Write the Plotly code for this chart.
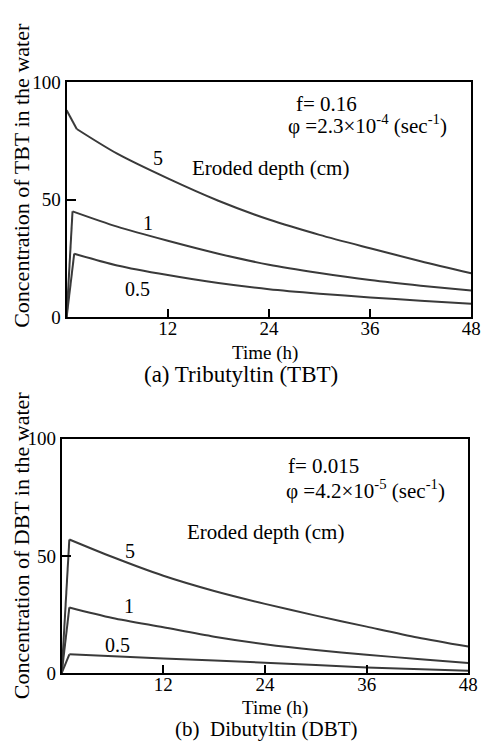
import plotly.graph_objects as go

# ---------------- data ----------------
# (a) Tributyltin (TBT), f = 0.16
tbt_t_5 = [0, 1.2, 6, 12, 18, 24, 30, 36, 42, 48]
tbt_c_5 = [88, 80, 69.5, 59, 49.5, 41.5, 35, 29.3, 23.8, 18.7]
tbt_t_1 = [0, 0.7, 6, 12, 18, 24, 30, 36, 42, 48]
tbt_c_1 = [0, 45, 38.5, 32.5, 27, 22.3, 18.8, 15.8, 13.4, 11.3]
tbt_t_05 = [0, 0.9, 6, 12, 18, 24, 30, 36, 42, 48]
tbt_c_05 = [0, 27, 22, 17.9, 14.5, 11.9, 10, 8.4, 7, 5.7]

# (b) Dibutyltin (DBT), f = 0.015
dbt_t_5 = [0, 0.9, 6, 12, 18, 24, 30, 36, 42, 48]
dbt_c_5 = [0, 57, 49.5, 41.5, 35, 29.5, 24.5, 19.8, 15.2, 11.3]
dbt_t_1 = [0, 0.9, 6, 12, 18, 24, 30, 36, 42, 48]
dbt_c_1 = [0, 28, 23.5, 19.5, 15.5, 12.3, 9.8, 7.8, 6, 4.3]
dbt_t_05 = [0, 0.9, 12, 24, 36, 48]
dbt_c_05 = [0, 8, 6.2, 4.4, 2.4, 1.0]

x_ticks = [12, 24, 36, 48]
y_ticks = [0, 50, 100]

FONT = "Liberation Serif, Times New Roman, Times, serif"
LINE_COLOR = "#3a3a3a"

fig = go.Figure()

def add_curve(t, c, xa, ya):
    # steep initial rise (straight) and smooth decay
    fig.add_trace(go.Scatter(x=t[:2], y=c[:2], mode="lines",
                             line=dict(color=LINE_COLOR, width=2), xaxis=xa, yaxis=ya))
    fig.add_trace(go.Scatter(x=t[1:], y=c[1:], mode="lines",
                             line=dict(color=LINE_COLOR, width=2, shape="spline", smoothing=0.8),
                             xaxis=xa, yaxis=ya))

for t, c in [(tbt_t_5, tbt_c_5), (tbt_t_1, tbt_c_1), (tbt_t_05, tbt_c_05)]:
    add_curve(t, c, "x", "y")
for t, c in [(dbt_t_5, dbt_c_5), (dbt_t_1, dbt_c_1), (dbt_t_05, dbt_c_05)]:
    add_curve(t, c, "x2", "y2")

W, H = 493, 754
TS = 19

def xax(domain, anchor):
    return dict(domain=domain, anchor=anchor, range=[0, 48], tickvals=x_ticks,
                ticks="inside", ticklen=8, tickwidth=1.5, tickcolor="black",
                showline=True, linecolor="black", linewidth=2, mirror=True,
                showgrid=False, zeroline=False, ticklabelstandoff=-7,
                tickfont=dict(family=FONT, size=TS, color="black"))

def yax(domain, anchor):
    return dict(domain=domain, anchor=anchor, range=[0, 100], tickvals=y_ticks,
                ticks="inside", ticklen=9, tickwidth=1.5, tickcolor="black",
                showline=True, linecolor="black", linewidth=2, mirror=True,
                showgrid=False, zeroline=False,
                tickfont=dict(family=FONT, size=TS, color="black"))

fig.update_layout(
    width=W, height=H, margin=dict(l=0, r=0, t=0, b=0),
    paper_bgcolor="white", plot_bgcolor="white", showlegend=False,
    font=dict(family=FONT, size=TS, color="black"),
    xaxis=xax([68 / W, 481 / W], "y"),
    yaxis=yax([1 - 316 / H, 1 - 74 / H], "x"),
    xaxis2=xax([63 / W, 478 / W], "y2"),
    yaxis2=yax([1 - 682 / H, 1 - 441 / H], "x2"),
)

def f(size):
    return dict(family=FONT, size=size, color="black")

def paper(x, y, text, size, angle=0):
    return dict(x=x / W, y=1 - y / H, xref="paper", yref="paper", text=text, textangle=angle,
                showarrow=False, font=f(size), xanchor="center", yanchor="middle")

ann = []
# panel (a)
ann += [
    dict(x=10.8, y=67.8, xref="x", yref="y", text="5", showarrow=False, font=f(20)),
    dict(x=9.7, y=40, xref="x", yref="y", text="1", showarrow=False, font=f(20)),
    dict(x=8.4, y=12, xref="x", yref="y", text="0.5", showarrow=False, font=f(20)),
    dict(x=24.2, y=63.5, xref="x", yref="y", text="Eroded depth (cm)", showarrow=False, font=f(21)),
    dict(x=27, y=90.5, xref="x", yref="y", text="f= 0.16", showarrow=False, font=f(21), xanchor="left"),
    dict(x=26.0, y=82, xref="x", yref="y", text="φ =2.3×10<sup>-4</sup> (sec<sup>-1</sup>)",
         showarrow=False, font=f(21), xanchor="left"),
    paper(22, 170, "Concentration of TBT in the water", 22, -90),
    paper(270, 353, "Time (h)", 19),
    paper(246, 375, "(a) Tributyltin (TBT)", 23),
]
# panel (b)
ann += [
    dict(x=8.1, y=52, xref="x2", yref="y2", text="5", showarrow=False, font=f(20)),
    dict(x=7.9, y=28.6, xref="x2", yref="y2", text="1", showarrow=False, font=f(20)),
    dict(x=6.6, y=12, xref="x2", yref="y2", text="0.5", showarrow=False, font=f(20)),
    dict(x=24, y=60, xref="x2", yref="y2", text="Eroded depth (cm)", showarrow=False, font=f(21)),
    dict(x=26.5, y=88.4, xref="x2", yref="y2", text="f= 0.015", showarrow=False, font=f(21), xanchor="left"),
    dict(x=26.2, y=78.4, xref="x2", yref="y2", text="φ =4.2×10<sup>-5</sup> (sec<sup>-1</sup>)",
         showarrow=False, font=f(21), xanchor="left"),
    paper(22, 551, "Concentration of DBT in the water", 22, -90),
    paper(281, 718, "Time (h)", 19),
    paper(272, 740, "(b)  Dibutyltin (DBT)", 21),
]
fig.update_layout(annotations=ann)

fig.write_html("out.html")
